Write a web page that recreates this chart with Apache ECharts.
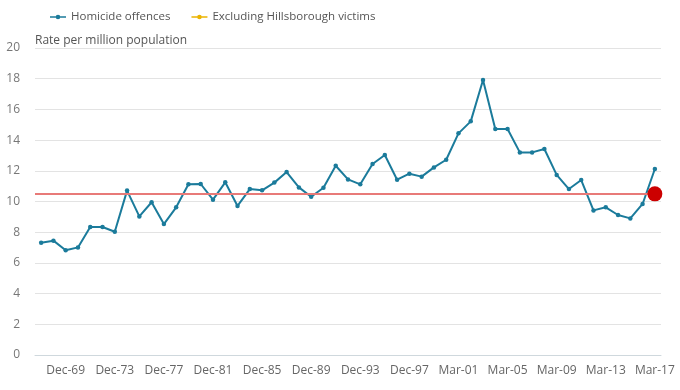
<!DOCTYPE html>
<html><head><meta charset="utf-8">
<script src="https://cdn.jsdelivr.net/npm/echarts@6/dist/echarts.min.js"></script>
<style>html,body{margin:0;padding:0;background:#fff}#c{width:680px;height:390px}</style>
</head><body><div id="c"></div>
<script>
const categories = ['Dec-67','Dec-68','Dec-69','Dec-70','Dec-71','Dec-72','Dec-73','Dec-74','Dec-75','Dec-76','Dec-77','Dec-78','Dec-79','Dec-80','Dec-81','Dec-82','Dec-83','Dec-84','Dec-85','Dec-86','Dec-87','Dec-88','Dec-89','Dec-90','Dec-91','Dec-92','Dec-93','Dec-94','Dec-95','Dec-96','Dec-97','Mar-98','Mar-99','Mar-00','Mar-01','Mar-02','Mar-03','Mar-04','Mar-05','Mar-06','Mar-07','Mar-08','Mar-09','Mar-10','Mar-11','Mar-12','Mar-13','Mar-14','Mar-15','Mar-16','Mar-17'];
const homicideOffences = [7.32,7.45,6.82,7.01,8.34,8.34,8.03,10.71,9.03,9.95,8.53,9.62,11.12,11.14,10.12,11.25,9.71,10.81,10.73,11.23,11.92,10.92,10.31,10.90,12.33,11.44,11.12,12.44,13.03,11.42,11.81,11.62,12.22,12.72,14.44,15.22,17.92,14.72,14.72,13.2,13.2,13.42,11.73,10.81,11.40,9.42,9.62,9.12,8.90,9.84,12.12];
const excludingHillsboroughLast = 10.5;
const yTicks = {min:0, max:20, interval:2};
const seriesNames = ['Homicide offences','Excluding Hillsborough victims'];

const excl = categories.map((c,i)=> i===categories.length-1 ? {value:excludingHillsboroughLast, itemStyle:{color:'#cc0000'}, symbolSize:15} : null);

const legendIcon = 'path://M0,4h16v1.6h-16z M5.7,4.8a2.3,2.3 0 1,1 4.6,0a2.3,2.3 0 1,1 -4.6,0z';

const chart = echarts.init(document.getElementById('c'), null, {renderer:'canvas'});
const font = '"Open Sans", "Noto Sans", sans-serif';
chart.setOption({
  animation:false,
  textStyle:{fontFamily:font},
  legend:{
    left:45, top:6, itemGap:21, itemWidth:16, itemHeight:6,
    textStyle:{color:'#555', fontSize:11.5, fontFamily:font},
    data:seriesNames.map(n=>({name:n, icon:legendIcon}))
  },
  grid:{left:35, right:19, top:48, bottom:35, containLabel:false},
  xAxis:{
    type:'category', data:categories, boundaryGap:true,
    axisLine:{lineStyle:{color:'#cfd8dd'}},
    axisTick:{alignWithLabel:true, interval:(i)=>i%4===2, length:6, lineStyle:{color:'#cfd8dd'}},
    axisLabel:{interval:(i)=>i%4===2, color:'#666', fontSize:12, fontFamily:font, margin:10}
  },
  yAxis:{
    type:'value', min:yTicks.min, max:yTicks.max, interval:yTicks.interval,
    name:'Rate per million population', nameLocation:'end', nameGap:1,
    nameTextStyle:{align:'left', color:'#555', fontSize:12, fontFamily:font, padding:[0,0,0,0]},
    axisLine:{show:false}, axisTick:{show:false},
    axisLabel:{color:'#777', fontSize:12, fontFamily:font, margin:15},
    splitLine:{lineStyle:{color:'#e3e3e3'}}
  },
  series:[
    {name:seriesNames[0], type:'line', data:homicideOffences, color:'#1b7b9b',
     symbol:'circle', symbolSize:4.5, lineStyle:{width:2, color:'#1b7b9b'}, itemStyle:{color:'#1b7b9b'}, z:3,
     markLine:{silent:true, symbol:['none','none'], label:{show:false},
       lineStyle:{color:'#e87a78', width:2, type:'solid'},
       data:[{yAxis:excludingHillsboroughLast}]}},
    {name:seriesNames[1], type:'line', data:excl, color:'#ecb400',
     symbol:'circle', lineStyle:{width:2, color:'#ecb400'}, itemStyle:{color:'#ecb400'}, z:6}
  ]
});
</script></body></html>
